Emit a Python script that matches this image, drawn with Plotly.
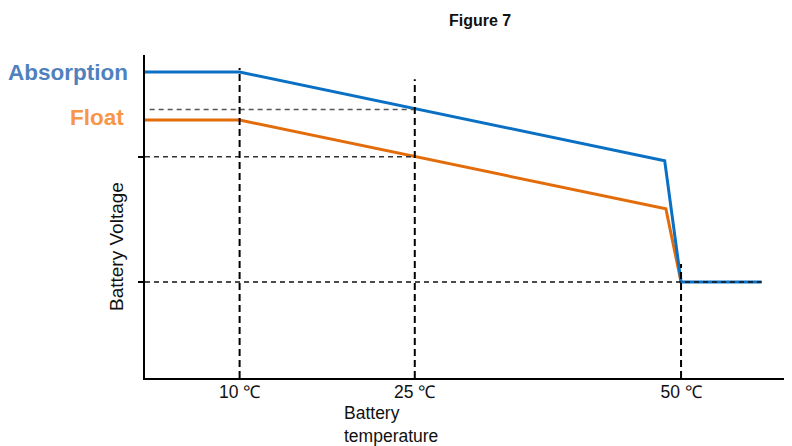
import plotly.graph_objects as go

# Schematic data (temperature in °C-like schematic units, voltage in schematic units)
abs_x = [1.9, 10, 46.4, 47.8, 54.7]
abs_y = [14.4, 14.4, 13.29, 11.775, 11.775]
flt_x = [1.9, 10, 46.5, 47.8]
flt_y = [13.8, 13.8, 12.69, 11.775]

tick_pos = [10, 25, 47.8]
tick_text = ["10 ℃", "25 ℃", "50 ℃"]
level_abs25 = 13.93
level_flt25 = 13.34
level_low = 11.775

X_RANGE = [1.9, 57.3]
Y_RANGE = [10.575, 14.6125]

fig = go.Figure()
fig.add_trace(go.Scatter(x=flt_x, y=flt_y, mode="lines",
                         line=dict(color="#E36C0A", width=3), hoverinfo="skip"))
fig.add_trace(go.Scatter(x=abs_x, y=abs_y, mode="lines",
                         line=dict(color="#0A70C4", width=3), hoverinfo="skip"))

shapes = []
# horizontal dashed guides
shapes.append(dict(type="line", xref="x", yref="y", x0=2.3, x1=25, y0=level_abs25, y1=level_abs25,
                   line=dict(color="#555555", width=1.5, dash="5px,4px")))
shapes.append(dict(type="line", xref="x", yref="y", x0=1.9, x1=25, y0=level_flt25, y1=level_flt25,
                   line=dict(color="#333333", width=1.5, dash="5px,4px")))
shapes.append(dict(type="line", xref="x", yref="y", x0=1.9, x1=54.7, y0=level_low, y1=level_low,
                   line=dict(color="#111111", width=1.5, dash="5px,4px")))
# vertical dashed guides
shapes.append(dict(type="line", xref="x", yref="y", x0=10, x1=10, y0=Y_RANGE[0], y1=14.45,
                   line=dict(color="black", width=2, dash="7px,4px")))
shapes.append(dict(type="line", xref="x", yref="y", x0=25, x1=25, y0=Y_RANGE[0], y1=14.31,
                   line=dict(color="black", width=2, dash="7px,4px")))
shapes.append(dict(type="line", xref="x", yref="y", x0=47.8, x1=47.8, y0=Y_RANGE[0], y1=12.0,
                   line=dict(color="black", width=2, dash="7px,4px")))

annotations = [
    dict(text="<b>Figure 7</b>", xref="paper", yref="paper", x=(480 - 145) / 647, y=1 + (55 - 20) / 323,
         showarrow=False, font=dict(size=16, color="#111111"), xanchor="center", yanchor="middle"),
    dict(text="<b>Absorption</b>", xref="paper", yref="y", x=-15 / 647, y=14.39,
         showarrow=False, font=dict(size=22.5, color="#4F81BD"), xanchor="right", yanchor="middle"),
    dict(text="<b>Float</b>", xref="paper", yref="y", x=-19 / 647, y=13.83,
         showarrow=False, font=dict(size=22.5, color="#F79646"), xanchor="right", yanchor="middle"),
    dict(text="Battery Voltage", xref="paper", yref="paper", x=-(145 - 116) / 647, y=(378 - 247) / 323,
         textangle=-90, showarrow=False, font=dict(size=19, color="#111111"),
         xanchor="center", yanchor="middle"),
    dict(text="Battery<br>temperature", xref="paper", yref="paper", x=(343 - 145) / 647, y=-(402 - 378) / 323,
         showarrow=False, font=dict(size=17.5, color="#111111"), xanchor="left", yanchor="top",
         align="left", borderpad=0),
]

fig.update_layout(
    width=784, height=438,
    margin=dict(l=137, r=0, t=47, b=68),
    paper_bgcolor="white", plot_bgcolor="white",
    showlegend=False,
    font=dict(family="Liberation Sans, Arial, sans-serif", color="#111111"),
    shapes=shapes, annotations=annotations,
    xaxis=dict(range=X_RANGE, showgrid=False, zeroline=False, showline=True, linecolor="black",
               linewidth=2, tickmode="array", tickvals=tick_pos, ticktext=tick_text,
               ticks="", ticklabelstandoff=-3, tickfont=dict(size=17.5, color="#111111")),
    yaxis=dict(range=Y_RANGE, showgrid=False, zeroline=False, showline=True, linecolor="black",
               linewidth=2, tickmode="array", tickvals=[level_flt25, level_low],
               ticktext=["", ""], ticks="outside", ticklen=5, tickwidth=1.5, tickcolor="black"),
)

fig.write_html("out.html")
